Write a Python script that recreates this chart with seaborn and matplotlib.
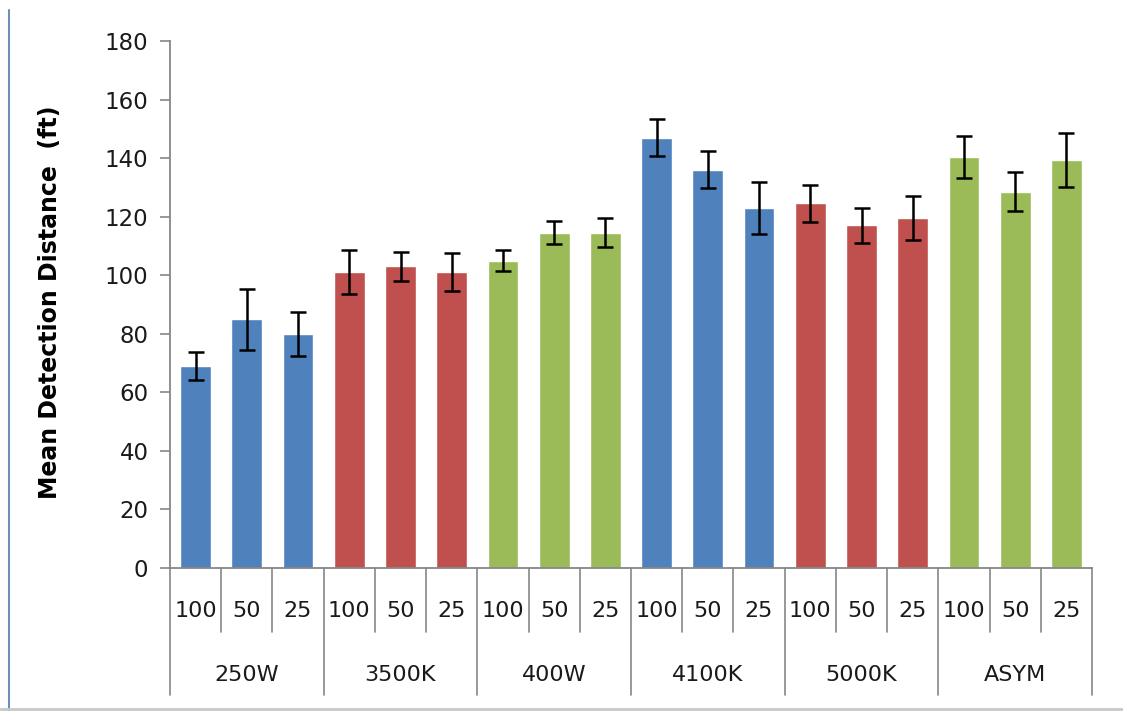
import numpy as np
import pandas as pd
import matplotlib
matplotlib.use("Agg")
import matplotlib.pyplot as plt
from matplotlib.lines import Line2D
import seaborn as sns

# Daten
groups = ["250W", "3500K", "400W", "4100K", "5000K", "ASYM"]
levels = ["100", "50", "25"]
mean_dist = [69, 85, 80,
             101, 103, 101,
             105, 114.5, 114.5,
             147, 136, 123,
             124.5, 117, 119.5,
             140.5, 128.5, 139.5]
err = [4.8, 10.4, 7.5,
       7.5, 5.0, 6.5,
       3.5, 4.0, 5.0,
       6.3, 6.3, 8.8,
       6.2, 5.9, 7.5,
       7.2, 6.7, 9.2]
group_colors = {"250W": "#4F81BD", "3500K": "#C0504D", "400W": "#9BBB59",
                "4100K": "#4F81BD", "5000K": "#C0504D", "ASYM": "#9BBB59"}

df = pd.DataFrame({
    "group": np.repeat(groups, len(levels)),
    "level": levels * len(groups),
    "value": mean_dist,
    "err": err,
})
df["key"] = df["group"] + "|" + df["level"]

sns.set_style("white")
plt.rcParams["font.family"] = ["DejaVu Sans"]

fig = plt.figure(figsize=(11.23, 7.11), dpi=100)
ax = fig.add_axes([170 / 1123, 1 - 568 / 711, 922 / 1123, 527 / 711])

sns.barplot(data=df, x="key", y="value", hue="group", palette=group_colors,
            order=list(df["key"]), dodge=False, width=0.6, legend=False,
            saturation=1, ax=ax)

xpos = np.arange(len(df))
ax.errorbar(xpos, df["value"], yerr=df["err"], fmt="none", ecolor="black",
            elinewidth=1.8, capsize=5.8, capthick=1.8, zorder=5)

ax.set_xlim(-0.5, len(df) - 0.5)
ax.set_ylim(0, 180)
ax.set_yticks(range(0, 181, 20))
ax.tick_params(axis="y", direction="out", length=7.5, width=1.2, pad=8,
               color="#868686", labelsize=16.5, labelcolor="#1a1a1a", left=True)
ax.set_xticks([])
ax.set_xlabel("")
for s in ["top", "right"]:
    ax.spines[s].set_visible(False)
for s in ["left", "bottom"]:
    ax.spines[s].set_color("#868686")
    ax.spines[s].set_linewidth(1.3)

ax.set_ylabel("Mean Detection Distance  (ft)", fontsize=17, fontweight="bold",
              color="black")
ax.yaxis.set_label_coords(-0.117, 0.505)

# mehrstufige Kategorienachse im Excel-Stil
trans = ax.get_xaxis_transform()
cat_font = ["Liberation Sans Narrow", "DejaVu Sans"]
inner_end = (568 - 632) / 527
outer_end = (568 - 695) / 527
for i in range(len(df) + 1):
    b = i - 0.5
    y_end = outer_end if i % len(levels) == 0 else inner_end
    ax.plot([b, b], [0, y_end], transform=trans, color="#868686", lw=1.2,
            clip_on=False)
for i, lv in enumerate(df["level"]):
    ax.text(i, (568 - 611) / 527, lv, transform=trans, ha="center",
            va="center", fontsize=16, family=cat_font, color="#1a1a1a")
for g_i, g in enumerate(groups):
    cx = g_i * len(levels) + 1
    ax.text(cx, (568 - 675) / 527, g, transform=trans, ha="center",
            va="center", fontsize=16, family=cat_font, color="#1a1a1a")

# Rahmenlinien
fig.add_artist(Line2D([9 / 1123, 9 / 1123], [0, 1 - 10 / 711],
                      color="#6f8db5", lw=1.5))
fig.add_artist(Line2D([0, 1], [2 / 711, 2 / 711], color="#c8c8c8", lw=2))

fig.savefig("out.png", dpi=100)
